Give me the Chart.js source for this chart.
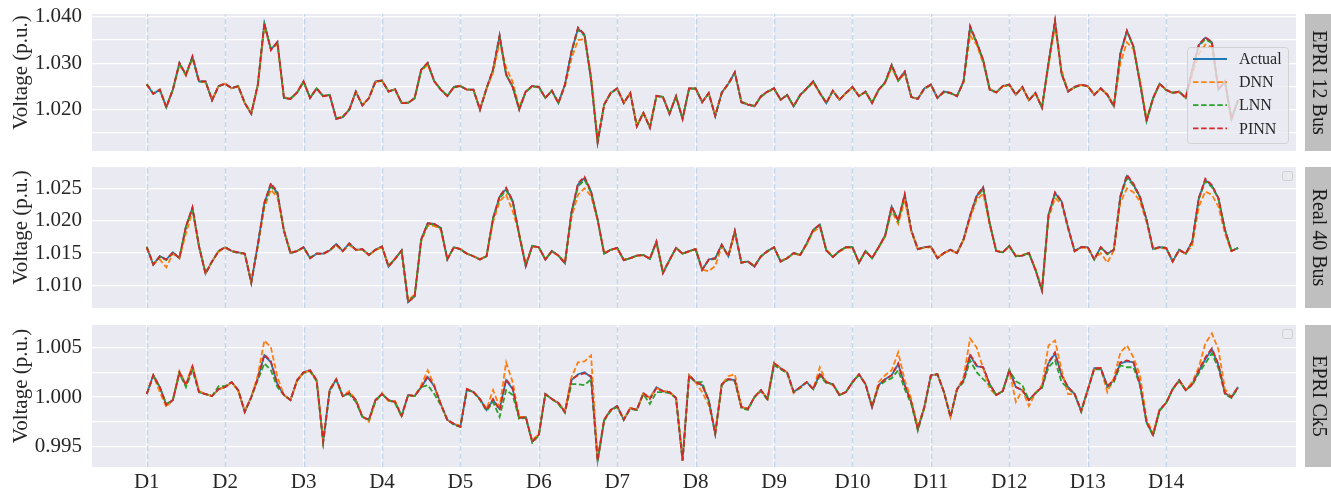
<!DOCTYPE html>
<html>
<head>
<meta charset="utf-8">
<title>Voltage prediction comparison</title>
<script src="https://cdn.jsdelivr.net/npm/chart.js@4.4.1/dist/chart.umd.min.js"></script>
<style>
html,body{margin:0;padding:0;background:#ffffff;}
#wrap{position:relative;width:1331px;height:493px;overflow:hidden;background:#fff;}
#wrap canvas{position:absolute;left:0;display:block;}
</style>
</head>
<body>
<div id="wrap">
<canvas id="c1" width="1331" height="160" style="top:0px;width:1331px;height:160px"></canvas>
<canvas id="c2" width="1331" height="160" style="top:160px;width:1331px;height:160px"></canvas>
<canvas id="c3" width="1331" height="173" style="top:320px;width:1331px;height:173px"></canvas>
</div>
<script>
// ---------------- categories / tick labels ----------------
const dayLabels = ['D1','D2','D3','D4','D5','D6','D7','D8','D9','D10','D11','D12','D13','D14'];
const dayTickHours = [0,24,48,72,96,120,144,168,192,216,240,264,288,312];
const sampleStepHours = 2;
const seriesNames = ['Actual','DNN','LNN','PINN'];
const panelTitles = ['EPRI 12 Bus','Real 40 Bus','EPRI Ck5'];

const epri12YGrid = [1.015,1.020,1.025,1.030,1.035,1.040];
const epri12YLabels = [1.020,1.030,1.040];
const real40YGrid = [1.010,1.015,1.020,1.025];
const real40YLabels = [1.010,1.015,1.020,1.025];
const ck5YGrid = [0.995,0.9975,1.000,1.0025,1.005];
const ck5YLabels = [0.995,1.000,1.005];

// ---------------- EPRI 12 Bus (2-hourly samples) ----------------
const epri12Actual = [
1.0254,1.0234,1.0243,1.0205,1.0243,1.0300,1.0275,1.0314,1.0261,1.0261,1.0220,1.0251,
1.0256,1.0246,1.0251,1.0214,1.0191,1.0254,1.0386,1.0330,1.0345,1.0225,1.0223,1.0237,
1.0261,1.0225,1.0246,1.0229,1.0232,1.0180,1.0184,1.0200,1.0239,1.0209,1.0225,1.0261,
1.0263,1.0239,1.0244,1.0214,1.0214,1.0225,1.0286,1.0300,1.0261,1.0243,1.0229,1.0249,
1.0251,1.0243,1.0243,1.0200,1.0246,1.0286,1.0359,1.0275,1.0249,1.0200,1.0239,1.0251,
1.0249,1.0225,1.0241,1.0214,1.0254,1.0325,1.0375,1.0361,1.0264,1.0130,1.0211,1.0236,
1.0246,1.0214,1.0236,1.0164,1.0193,1.0161,1.0230,1.0227,1.0191,1.0229,1.0180,1.0246,
1.0246,1.0216,1.0236,1.0186,1.0237,1.0256,1.0280,1.0216,1.0211,1.0207,1.0229,1.0239,
1.0246,1.0221,1.0232,1.0207,1.0232,1.0246,1.0261,1.0236,1.0214,1.0241,1.0221,1.0236,
1.0249,1.0229,1.0239,1.0214,1.0243,1.0259,1.0296,1.0263,1.0282,1.0227,1.0223,1.0246,
1.0254,1.0225,1.0239,1.0236,1.0229,1.0261,1.0378,1.0345,1.0307,1.0243,1.0237,1.0251,
1.0254,1.0232,1.0249,1.0220,1.0236,1.0204,1.0300,1.0390,1.0277,1.0239,1.0249,1.0254,
1.0251,1.0232,1.0246,1.0232,1.0207,1.0321,1.0370,1.0336,1.0257,1.0175,1.0225,1.0256,
1.0243,1.0236,1.0239,1.0225,1.0286,1.0339,1.0355,1.0345,1.0243,1.0261,1.0179,1.0221];
const epri12DNN = [
1.0254,1.0234,1.0243,1.0207,1.0243,1.0297,1.0273,1.0310,1.0261,1.0259,1.0222,1.0251,
1.0256,1.0246,1.0250,1.0215,1.0193,1.0252,1.0378,1.0332,1.0340,1.0227,1.0223,1.0237,
1.0260,1.0226,1.0245,1.0229,1.0232,1.0182,1.0185,1.0200,1.0238,1.0210,1.0225,1.0259,
1.0262,1.0240,1.0243,1.0215,1.0215,1.0225,1.0283,1.0297,1.0262,1.0243,1.0230,1.0248,
1.0251,1.0243,1.0242,1.0202,1.0245,1.0280,1.0345,1.0290,1.0260,1.0205,1.0239,1.0250,
1.0249,1.0226,1.0240,1.0215,1.0250,1.0310,1.0350,1.0352,1.0275,1.0135,1.0210,1.0236,
1.0245,1.0215,1.0236,1.0166,1.0193,1.0163,1.0229,1.0226,1.0193,1.0228,1.0182,1.0245,
1.0246,1.0217,1.0235,1.0188,1.0236,1.0255,1.0277,1.0217,1.0212,1.0208,1.0228,1.0238,
1.0245,1.0222,1.0231,1.0208,1.0231,1.0245,1.0258,1.0236,1.0215,1.0240,1.0222,1.0235,
1.0248,1.0230,1.0238,1.0215,1.0242,1.0257,1.0290,1.0262,1.0278,1.0228,1.0224,1.0245,
1.0253,1.0226,1.0238,1.0236,1.0230,1.0258,1.0360,1.0340,1.0300,1.0245,1.0237,1.0250,
1.0253,1.0233,1.0248,1.0221,1.0235,1.0206,1.0295,1.0380,1.0285,1.0240,1.0248,1.0253,
1.0250,1.0233,1.0245,1.0233,1.0209,1.0300,1.0345,1.0330,1.0265,1.0180,1.0224,1.0255,
1.0243,1.0236,1.0238,1.0226,1.0275,1.0320,1.0340,1.0335,1.0245,1.0259,1.0182,1.0220];
const epri12LNN = [
1.0255,1.0235,1.0242,1.0206,1.0244,1.0299,1.0276,1.0312,1.0260,1.0261,1.0221,1.0250,
1.0255,1.0247,1.0250,1.0215,1.0192,1.0253,1.0383,1.0331,1.0343,1.0226,1.0224,1.0236,
1.0260,1.0226,1.0245,1.0230,1.0231,1.0181,1.0185,1.0201,1.0238,1.0210,1.0224,1.0260,
1.0262,1.0240,1.0243,1.0215,1.0215,1.0224,1.0285,1.0299,1.0261,1.0244,1.0230,1.0248,
1.0250,1.0244,1.0242,1.0201,1.0245,1.0285,1.0356,1.0276,1.0250,1.0202,1.0238,1.0250,
1.0248,1.0226,1.0240,1.0215,1.0253,1.0323,1.0372,1.0359,1.0265,1.0132,1.0211,1.0235,
1.0245,1.0215,1.0235,1.0165,1.0194,1.0162,1.0229,1.0228,1.0192,1.0228,1.0181,1.0245,
1.0245,1.0217,1.0235,1.0187,1.0236,1.0255,1.0279,1.0217,1.0212,1.0208,1.0228,1.0238,
1.0245,1.0222,1.0231,1.0208,1.0231,1.0245,1.0260,1.0237,1.0215,1.0240,1.0222,1.0235,
1.0248,1.0230,1.0238,1.0215,1.0242,1.0258,1.0294,1.0262,1.0280,1.0228,1.0224,1.0245,
1.0253,1.0226,1.0238,1.0235,1.0230,1.0260,1.0376,1.0344,1.0306,1.0244,1.0238,1.0250,
1.0253,1.0233,1.0248,1.0221,1.0235,1.0205,1.0299,1.0388,1.0278,1.0240,1.0248,1.0253,
1.0250,1.0233,1.0245,1.0233,1.0208,1.0319,1.0368,1.0335,1.0258,1.0177,1.0224,1.0255,
1.0242,1.0237,1.0238,1.0226,1.0285,1.0337,1.0352,1.0343,1.0244,1.0260,1.0180,1.0220];
const epri12PINN = [
1.0254,1.0234,1.0243,1.0205,1.0243,1.0301,1.0275,1.0315,1.0261,1.0261,1.0220,1.0251,
1.0256,1.0246,1.0251,1.0214,1.0191,1.0254,1.0387,1.0328,1.0346,1.0225,1.0223,1.0237,
1.0261,1.0225,1.0246,1.0229,1.0232,1.0180,1.0184,1.0200,1.0239,1.0209,1.0225,1.0261,
1.0263,1.0239,1.0244,1.0214,1.0214,1.0225,1.0286,1.0301,1.0261,1.0243,1.0229,1.0249,
1.0251,1.0243,1.0243,1.0200,1.0246,1.0287,1.0360,1.0276,1.0249,1.0200,1.0239,1.0251,
1.0249,1.0225,1.0241,1.0214,1.0254,1.0326,1.0377,1.0362,1.0264,1.0129,1.0211,1.0236,
1.0246,1.0214,1.0236,1.0164,1.0193,1.0161,1.0230,1.0227,1.0191,1.0229,1.0180,1.0246,
1.0246,1.0216,1.0236,1.0186,1.0237,1.0256,1.0281,1.0216,1.0211,1.0207,1.0229,1.0239,
1.0246,1.0221,1.0232,1.0207,1.0232,1.0246,1.0261,1.0236,1.0214,1.0241,1.0221,1.0236,
1.0249,1.0229,1.0239,1.0214,1.0243,1.0259,1.0297,1.0263,1.0282,1.0227,1.0223,1.0246,
1.0254,1.0225,1.0239,1.0236,1.0229,1.0261,1.0380,1.0346,1.0307,1.0243,1.0237,1.0251,
1.0254,1.0232,1.0249,1.0220,1.0236,1.0204,1.0301,1.0392,1.0277,1.0239,1.0249,1.0254,
1.0251,1.0232,1.0246,1.0232,1.0207,1.0322,1.0370,1.0336,1.0257,1.0175,1.0225,1.0256,
1.0243,1.0236,1.0239,1.0225,1.0286,1.0340,1.0356,1.0346,1.0243,1.0261,1.0179,1.0221];

// ---------------- Real 40 Bus ----------------
const real40Actual = [
1.0159,1.0132,1.0145,1.0140,1.0151,1.0142,1.0191,1.0220,1.0160,1.0118,1.0137,1.0153,
1.0159,1.0153,1.0151,1.0149,1.0104,1.0163,1.0227,1.0256,1.0243,1.0184,1.0150,1.0153,
1.0159,1.0142,1.0149,1.0149,1.0154,1.0164,1.0153,1.0165,1.0155,1.0156,1.0147,1.0155,
1.0160,1.0129,1.0141,1.0154,1.0074,1.0083,1.0171,1.0196,1.0195,1.0189,1.0140,1.0159,
1.0156,1.0149,1.0145,1.0140,1.0145,1.0204,1.0237,1.0249,1.0231,1.0178,1.0130,1.0161,
1.0159,1.0140,1.0153,1.0146,1.0134,1.0213,1.0256,1.0266,1.0245,1.0202,1.0149,1.0155,
1.0158,1.0139,1.0142,1.0146,1.0147,1.0141,1.0168,1.0119,1.0139,1.0158,1.0149,1.0153,
1.0156,1.0124,1.0140,1.0142,1.0163,1.0145,1.0184,1.0135,1.0137,1.0129,1.0145,1.0153,
1.0159,1.0137,1.0142,1.0150,1.0147,1.0165,1.0186,1.0194,1.0154,1.0144,1.0153,1.0159,
1.0159,1.0135,1.0153,1.0142,1.0159,1.0177,1.0222,1.0200,1.0240,1.0185,1.0156,1.0159,
1.0160,1.0142,1.0150,1.0155,1.0150,1.0171,1.0208,1.0238,1.0251,1.0196,1.0153,1.0151,
1.0161,1.0145,1.0146,1.0150,1.0124,1.0092,1.0209,1.0243,1.0230,1.0189,1.0153,1.0159,
1.0159,1.0140,1.0159,1.0149,1.0155,1.0238,1.0269,1.0256,1.0237,1.0202,1.0156,1.0159,
1.0158,1.0137,1.0155,1.0149,1.0168,1.0235,1.0263,1.0254,1.0235,1.0186,1.0153,1.0158];
const real40DNN = [
1.0158,1.0133,1.0140,1.0128,1.0149,1.0142,1.0180,1.0215,1.0161,1.0119,1.0137,1.0152,
1.0158,1.0153,1.0150,1.0149,1.0106,1.0160,1.0220,1.0248,1.0236,1.0186,1.0151,1.0153,
1.0158,1.0143,1.0149,1.0148,1.0154,1.0162,1.0153,1.0162,1.0155,1.0155,1.0147,1.0154,
1.0159,1.0131,1.0141,1.0153,1.0077,1.0086,1.0168,1.0192,1.0192,1.0186,1.0141,1.0158,
1.0156,1.0149,1.0145,1.0141,1.0145,1.0198,1.0230,1.0240,1.0215,1.0180,1.0133,1.0160,
1.0158,1.0141,1.0152,1.0146,1.0136,1.0205,1.0240,1.0250,1.0238,1.0200,1.0150,1.0155,
1.0157,1.0140,1.0142,1.0146,1.0146,1.0142,1.0165,1.0121,1.0139,1.0157,1.0149,1.0152,
1.0156,1.0124,1.0122,1.0130,1.0160,1.0146,1.0180,1.0136,1.0137,1.0130,1.0145,1.0152,
1.0158,1.0138,1.0142,1.0149,1.0147,1.0163,1.0183,1.0190,1.0155,1.0145,1.0152,1.0158,
1.0158,1.0136,1.0152,1.0143,1.0158,1.0175,1.0215,1.0195,1.0232,1.0183,1.0156,1.0158,
1.0159,1.0143,1.0150,1.0154,1.0150,1.0170,1.0203,1.0232,1.0242,1.0194,1.0154,1.0151,
1.0160,1.0146,1.0147,1.0150,1.0126,1.0095,1.0203,1.0235,1.0226,1.0187,1.0153,1.0158,
1.0158,1.0141,1.0150,1.0135,1.0154,1.0228,1.0250,1.0244,1.0230,1.0198,1.0156,1.0158,
1.0157,1.0138,1.0154,1.0149,1.0162,1.0222,1.0245,1.0240,1.0222,1.0180,1.0153,1.0157];
const real40LNN = [
1.0160,1.0133,1.0144,1.0139,1.0150,1.0143,1.0190,1.0218,1.0161,1.0119,1.0137,1.0153,
1.0159,1.0153,1.0150,1.0149,1.0105,1.0162,1.0225,1.0253,1.0241,1.0185,1.0150,1.0153,
1.0159,1.0143,1.0149,1.0149,1.0154,1.0163,1.0153,1.0164,1.0155,1.0156,1.0147,1.0155,
1.0160,1.0130,1.0141,1.0154,1.0075,1.0084,1.0170,1.0195,1.0194,1.0188,1.0141,1.0159,
1.0156,1.0149,1.0145,1.0140,1.0145,1.0203,1.0235,1.0247,1.0229,1.0178,1.0131,1.0161,
1.0159,1.0140,1.0153,1.0146,1.0135,1.0211,1.0253,1.0263,1.0243,1.0201,1.0149,1.0155,
1.0158,1.0139,1.0142,1.0146,1.0147,1.0141,1.0167,1.0120,1.0139,1.0158,1.0149,1.0153,
1.0156,1.0125,1.0139,1.0141,1.0162,1.0145,1.0183,1.0135,1.0137,1.0130,1.0145,1.0153,
1.0159,1.0137,1.0142,1.0150,1.0147,1.0165,1.0185,1.0193,1.0154,1.0144,1.0153,1.0159,
1.0159,1.0135,1.0153,1.0142,1.0159,1.0177,1.0220,1.0199,1.0238,1.0185,1.0156,1.0159,
1.0160,1.0142,1.0150,1.0155,1.0150,1.0171,1.0207,1.0236,1.0249,1.0196,1.0153,1.0151,
1.0161,1.0145,1.0146,1.0150,1.0124,1.0093,1.0208,1.0241,1.0229,1.0189,1.0153,1.0159,
1.0159,1.0140,1.0158,1.0148,1.0155,1.0236,1.0266,1.0254,1.0236,1.0201,1.0156,1.0159,
1.0158,1.0137,1.0155,1.0149,1.0167,1.0233,1.0261,1.0252,1.0234,1.0186,1.0153,1.0158];
const real40PINN = [
1.0159,1.0132,1.0145,1.0140,1.0151,1.0142,1.0191,1.0221,1.0160,1.0118,1.0137,1.0153,
1.0159,1.0153,1.0151,1.0149,1.0104,1.0163,1.0228,1.0258,1.0244,1.0184,1.0150,1.0153,
1.0159,1.0142,1.0149,1.0149,1.0154,1.0164,1.0153,1.0165,1.0155,1.0156,1.0147,1.0155,
1.0160,1.0129,1.0141,1.0154,1.0074,1.0083,1.0171,1.0196,1.0195,1.0189,1.0140,1.0159,
1.0156,1.0149,1.0145,1.0140,1.0145,1.0204,1.0238,1.0251,1.0231,1.0178,1.0130,1.0161,
1.0159,1.0140,1.0153,1.0146,1.0134,1.0213,1.0258,1.0268,1.0245,1.0202,1.0149,1.0155,
1.0158,1.0139,1.0142,1.0146,1.0147,1.0141,1.0168,1.0119,1.0139,1.0158,1.0149,1.0153,
1.0156,1.0124,1.0140,1.0142,1.0163,1.0145,1.0184,1.0135,1.0137,1.0129,1.0145,1.0153,
1.0159,1.0137,1.0142,1.0150,1.0147,1.0165,1.0186,1.0194,1.0154,1.0144,1.0153,1.0159,
1.0159,1.0135,1.0153,1.0142,1.0159,1.0177,1.0222,1.0200,1.0241,1.0185,1.0156,1.0159,
1.0160,1.0142,1.0150,1.0155,1.0150,1.0171,1.0208,1.0239,1.0252,1.0196,1.0153,1.0151,
1.0161,1.0145,1.0146,1.0150,1.0124,1.0092,1.0209,1.0244,1.0230,1.0189,1.0153,1.0159,
1.0159,1.0140,1.0159,1.0149,1.0155,1.0238,1.0271,1.0257,1.0237,1.0202,1.0156,1.0159,
1.0158,1.0137,1.0155,1.0149,1.0168,1.0235,1.0265,1.0255,1.0235,1.0186,1.0153,1.0158];

// ---------------- EPRI Ck5 ----------------
const ck5Actual = [
1.0003,1.0022,1.0010,0.9992,0.9997,1.0025,1.0012,1.0030,1.0005,1.0003,1.0001,1.0008,
1.0010,1.0015,1.0007,0.9985,1.0000,1.0019,1.0042,1.0035,1.0013,1.0002,0.9997,1.0017,
1.0025,1.0027,1.0017,0.9955,1.0007,1.0018,1.0001,1.0004,0.9997,0.9980,0.9977,0.9997,
1.0003,0.9997,0.9995,0.9981,1.0002,1.0001,1.0010,1.0020,1.0011,0.9993,0.9977,0.9973,
0.9970,1.0008,1.0005,0.9998,0.9987,0.9997,0.9988,1.0017,1.0008,0.9979,0.9980,0.9955,
0.9962,1.0003,0.9998,0.9994,0.9985,1.0017,1.0023,1.0025,1.0020,0.9936,0.9977,0.9987,
0.9991,0.9977,0.9989,0.9987,1.0004,0.9999,1.0010,1.0006,1.0005,0.9999,0.9936,1.0022,
1.0015,1.0012,0.9997,0.9963,1.0013,1.0018,1.0017,0.9990,0.9988,1.0000,1.0007,0.9998,
1.0034,1.0029,1.0025,1.0005,1.0010,1.0015,1.0008,1.0023,1.0015,1.0013,1.0002,1.0005,
1.0015,1.0023,1.0013,0.9990,1.0012,1.0018,1.0022,1.0033,1.0012,0.9995,0.9968,0.9990,
1.0022,1.0023,1.0005,0.9980,1.0008,1.0017,1.0042,1.0031,1.0030,1.0013,1.0002,1.0006,
1.0027,1.0010,1.0007,0.9997,1.0004,1.0010,1.0034,1.0044,1.0022,1.0010,1.0003,0.9986,
1.0007,1.0029,1.0029,1.0011,1.0017,1.0034,1.0036,1.0035,1.0013,0.9975,0.9962,0.9987,
0.9994,1.0008,1.0017,1.0007,1.0013,1.0026,1.0038,1.0048,1.0032,1.0004,1.0000,1.0010];
const ck5DNN = [
1.0003,1.0022,1.0005,0.9990,0.9997,1.0026,1.0013,1.0032,1.0006,1.0003,1.0001,1.0008,
1.0010,1.0015,1.0006,0.9986,1.0000,1.0022,1.0057,1.0050,1.0020,1.0002,0.9997,1.0016,
1.0025,1.0026,1.0017,0.9957,1.0008,1.0018,1.0001,1.0006,0.9997,0.9981,0.9975,0.9995,
1.0004,0.9996,0.9996,0.9981,1.0002,1.0001,1.0012,1.0027,1.0012,0.9993,0.9977,0.9973,
0.9971,1.0008,1.0005,0.9998,0.9988,1.0007,0.9990,1.0035,1.0015,0.9980,0.9980,0.9956,
0.9963,1.0003,0.9998,0.9994,0.9986,1.0020,1.0035,1.0036,1.0042,0.9938,0.9977,0.9987,
0.9990,0.9978,0.9989,0.9987,1.0004,0.9999,1.0009,1.0006,1.0005,0.9999,0.9937,1.0022,
1.0015,1.0005,0.9992,0.9965,1.0013,1.0021,1.0023,0.9990,0.9988,1.0000,1.0007,0.9998,
1.0035,1.0029,1.0025,1.0004,1.0010,1.0015,1.0008,1.0030,1.0015,1.0012,1.0002,1.0005,
1.0015,1.0023,1.0013,0.9990,1.0015,1.0022,1.0027,1.0045,1.0017,0.9998,0.9970,0.9990,
1.0022,1.0023,1.0005,0.9980,1.0007,1.0020,1.0059,1.0050,1.0029,1.0008,1.0002,1.0006,
1.0027,0.9995,1.0007,0.9991,1.0004,1.0012,1.0052,1.0057,1.0027,1.0003,1.0003,0.9986,
1.0007,1.0029,1.0029,1.0005,1.0019,1.0045,1.0052,1.0040,1.0022,0.9978,0.9963,0.9987,
0.9994,1.0008,1.0017,1.0007,1.0015,1.0030,1.0054,1.0064,1.0048,1.0008,1.0000,1.0010];
const ck5LNN = [
1.0003,1.0021,1.0010,0.9993,0.9997,1.0024,1.0010,1.0027,1.0005,1.0003,1.0001,1.0011,
1.0011,1.0015,1.0007,0.9985,1.0000,1.0017,1.0034,1.0027,1.0010,1.0002,0.9997,1.0016,
1.0024,1.0026,1.0016,0.9954,1.0006,1.0017,1.0001,1.0003,0.9995,0.9980,0.9977,0.9996,
1.0003,0.9997,0.9994,0.9980,1.0002,1.0001,1.0010,1.0012,1.0003,0.9992,0.9977,0.9972,
0.9970,1.0007,1.0005,0.9997,0.9986,0.9995,0.9980,1.0007,1.0002,0.9978,0.9979,0.9954,
0.9961,1.0003,0.9998,0.9993,0.9984,1.0013,1.0013,1.0012,1.0018,0.9935,0.9976,0.9986,
0.9990,0.9977,0.9988,0.9987,1.0003,0.9993,1.0005,1.0005,1.0004,0.9999,0.9936,1.0021,
1.0015,1.0015,0.9996,0.9963,1.0012,1.0018,1.0016,0.9989,0.9987,1.0000,1.0006,0.9997,
1.0032,1.0028,1.0024,1.0005,1.0009,1.0015,1.0008,1.0021,1.0014,1.0013,1.0002,1.0005,
1.0015,1.0022,1.0013,0.9990,1.0011,1.0016,1.0019,1.0027,1.0008,0.9993,0.9966,0.9989,
1.0021,1.0023,1.0005,0.9980,1.0008,1.0015,1.0037,1.0025,1.0018,1.0012,1.0002,1.0006,
1.0027,1.0016,1.0012,0.9997,1.0004,1.0009,1.0030,1.0037,1.0015,1.0009,1.0003,0.9985,
1.0007,1.0028,1.0028,1.0010,1.0015,1.0032,1.0030,1.0030,1.0012,0.9974,0.9961,0.9986,
0.9994,1.0008,1.0016,1.0007,1.0012,1.0024,1.0034,1.0044,1.0029,1.0003,0.9999,1.0009];
const ck5PINN = [
1.0003,1.0022,1.0010,0.9992,0.9997,1.0025,1.0012,1.0031,1.0005,1.0003,1.0001,1.0008,
1.0010,1.0015,1.0007,0.9985,1.0000,1.0019,1.0043,1.0036,1.0013,1.0002,0.9997,1.0017,
1.0025,1.0027,1.0017,0.9955,1.0007,1.0018,1.0001,1.0004,0.9997,0.9980,0.9977,0.9997,
1.0003,0.9997,0.9995,0.9981,1.0002,1.0001,1.0010,1.0021,1.0011,0.9993,0.9977,0.9973,
0.9970,1.0008,1.0005,0.9998,0.9987,0.9998,0.9987,1.0018,1.0009,0.9979,0.9980,0.9955,
0.9962,1.0003,0.9998,0.9994,0.9985,1.0018,1.0022,1.0024,1.0021,0.9936,0.9977,0.9987,
0.9991,0.9977,0.9989,0.9987,1.0004,0.9998,1.0009,1.0006,1.0005,0.9999,0.9936,1.0022,
1.0015,1.0012,0.9997,0.9963,1.0013,1.0018,1.0017,0.9990,0.9988,1.0000,1.0007,0.9998,
1.0034,1.0029,1.0025,1.0005,1.0010,1.0015,1.0008,1.0024,1.0015,1.0013,1.0002,1.0005,
1.0015,1.0023,1.0013,0.9990,1.0012,1.0018,1.0022,1.0034,1.0012,0.9995,0.9968,0.9990,
1.0022,1.0023,1.0005,0.9980,1.0008,1.0017,1.0043,1.0032,1.0030,1.0013,1.0002,1.0006,
1.0027,1.0010,1.0007,0.9997,1.0004,1.0010,1.0035,1.0045,1.0022,1.0010,1.0003,0.9986,
1.0007,1.0029,1.0029,1.0011,1.0017,1.0035,1.0037,1.0035,1.0013,0.9975,0.9962,0.9987,
0.9994,1.0008,1.0017,1.0007,1.0013,1.0027,1.0040,1.0049,1.0033,1.0004,1.0000,1.0010];

// ---------------- styling ----------------
const FONT = "'Liberation Serif','Times New Roman',serif";
const TEXT = '#262626';
const seriesColors = ['#1f77b4','#ff7f0e','#2ca02c','#d62728'];
const seriesDashes = [[],[5.5,2.6],[5.5,2.6],[5.5,2.6]];

function roundedRect(ctx,x,y,w,h,r){
  ctx.beginPath();
  ctx.moveTo(x+r,y); ctx.lineTo(x+w-r,y); ctx.quadraticCurveTo(x+w,y,x+w,y+r);
  ctx.lineTo(x+w,y+h-r); ctx.quadraticCurveTo(x+w,y+h,x+w-r,y+h);
  ctx.lineTo(x+r,y+h); ctx.quadraticCurveTo(x,y+h,x,y+h-r);
  ctx.lineTo(x,y+r); ctx.quadraticCurveTo(x,y,x+r,y); ctx.closePath();
}

const panelDeco = {
  id: 'panelDeco',
  beforeDraw(chart){
    const a = chart.chartArea, c = chart.ctx;
    c.save(); c.fillStyle = '#EAEAF2';
    c.fillRect(a.left, a.top, a.right - a.left, a.bottom - a.top);
    c.restore();
  },
  beforeDatasetsDraw(chart){
    const a = chart.chartArea, c = chart.ctx, xs = chart.scales.x;
    c.save();
    c.strokeStyle = 'rgba(176,206,228,0.75)'; c.lineWidth = 1.5; c.setLineDash([5.5,2.4]);
    dayTickHours.forEach(h => {
      const px = Math.round(xs.getPixelForValue(h)) + 0.5;
      c.beginPath(); c.moveTo(px, a.bottom); c.lineTo(px, a.top); c.stroke();
    });
    c.restore();
  },
  afterDraw(chart, args, o){
    const a = chart.chartArea, c = chart.ctx, W = chart.width;
    c.save();
    // facet strip
    const sx = a.right + 9;
    c.fillStyle = '#bfbfbf';
    c.fillRect(sx, a.top, W - sx, a.bottom - a.top);
    c.save();
    c.translate((sx + W) / 2, (a.top + a.bottom) / 2);
    c.rotate(Math.PI / 2);
    c.fillStyle = '#1a1a1a'; c.font = '20px ' + FONT;
    c.textAlign = 'center'; c.textBaseline = 'middle';
    c.fillText(o.strip, 0, 0);
    c.restore();
    // y-axis title
    c.save();
    c.translate(21, (a.top + a.bottom) / 2 - 10);
    c.rotate(-Math.PI / 2);
    c.fillStyle = TEXT; c.font = '21px ' + FONT;
    c.textAlign = 'center'; c.textBaseline = 'middle';
    c.fillText('Voltage (p.u.)', 0, 0);
    c.restore();
    // legend
    if (o.legend === 'full') {
      const w = 101, h = 96, left = a.right - 109, top = a.top + 33;
      roundedRect(c, left + 0.5, top + 0.5, w, h, 3);
      c.fillStyle = 'rgba(234,234,242,0.8)'; c.fill();
      c.strokeStyle = 'rgba(204,204,204,0.8)'; c.lineWidth = 1; c.stroke();
      chart.data.datasets.forEach((d, k) => {
        const y = top + 12 + k * 23.1;
        c.strokeStyle = d.borderColor; c.lineWidth = d.borderWidth;
        c.setLineDash(d.borderDash || []);
        c.beginPath(); c.moveTo(left + 6, y); c.lineTo(left + 40, y); c.stroke();
        c.setLineDash([]);
        c.fillStyle = TEXT; c.font = '16px ' + FONT;
        c.textAlign = 'left'; c.textBaseline = 'middle';
        c.fillText(d.label, left + 52, y + 1);
      });
    } else if (o.legend === 'empty') {
      roundedRect(c, a.right - 13.5, a.top + 4.5, 10, 9, 2);
      c.fillStyle = 'rgba(234,234,242,0.8)'; c.fill();
      c.strokeStyle = 'rgba(204,204,204,0.9)'; c.lineWidth = 1; c.stroke();
    }
    c.restore();
  }
};

const panels = [
  {canvas:'c1', strip:panelTitles[0], series:[epri12Actual,epri12DNN,epri12LNN,epri12PINN],
   yMin:1.0111, yMax:1.0406, yGrid:epri12YGrid, yLabels:epri12YLabels,
   showX:false, xHeight:0, padTop:14, padBottom:9, legend:'full'},
  {canvas:'c2', strip:panelTitles[1], series:[real40Actual,real40DNN,real40LNN,real40PINN],
   yMin:1.0065, yMax:1.0283, yGrid:real40YGrid, yLabels:real40YLabels,
   showX:false, xHeight:0, padTop:7, padBottom:12, legend:'empty'},
  {canvas:'c3', strip:panelTitles[2], series:[ck5Actual,ck5DNN,ck5LNN,ck5PINN],
   yMin:0.99295, yMax:1.00726, yGrid:ck5YGrid, yLabels:ck5YLabels,
   showX:true, xHeight:26, padTop:5, padBottom:0, legend:'empty'}
];

function buildPanel(p){
  const datasets = seriesNames.map((name, k) => ({
    label: name,
    data: p.series[k].map((v, i) => ({x: i * sampleStepHours, y: v})),
    borderColor: seriesColors[k],
    borderDash: seriesDashes[k],
    borderWidth: 1.8,
    pointRadius: 0, pointHoverRadius: 0,
    fill: false, tension: 0,
    order: 3 - k
  }));
  return new Chart(document.getElementById(p.canvas), {
    type: 'line',
    data: {datasets},
    options: {
      responsive: false, animation: false, devicePixelRatio: 1, events: [],
      layout: {padding: {left: 0, right: 35, top: p.padTop, bottom: p.padBottom}},
      plugins: {
        legend: {display: false}, tooltip: {enabled: false},
        panelDeco: {strip: p.strip, legend: p.legend}
      },
      scales: {
        x: {
          type: 'linear', min: -16.75, max: 351.75,
          afterBuildTicks: s => { s.ticks = dayTickHours.map(v => ({value: v})); },
          ticks: {
            display: p.showX, autoSkip: false, maxRotation: 0, padding: 3,
            font: {family: FONT, size: 21}, color: TEXT,
            callback: (v, i) => dayLabels[i]
          },
          grid: {color: '#ffffff', lineWidth: 1.2, drawTicks: false},
          border: {display: false},
          afterFit: s => { s.height = p.xHeight; s.paddingLeft = 0; s.paddingRight = 0; }
        },
        y: {
          min: p.yMin, max: p.yMax,
          afterBuildTicks: s => { s.ticks = p.yGrid.map(v => ({value: v})); },
          ticks: {
            autoSkip: false, padding: 10,
            font: {family: FONT, size: 21}, color: TEXT,
            callback: v => p.yLabels.some(t => Math.abs(t - v) < 1e-7) ? v.toFixed(3) : ''
          },
          grid: {color: '#ffffff', lineWidth: 1.2, drawTicks: false},
          border: {display: false},
          afterFit: s => { s.width = 92; s.paddingTop = 0; s.paddingBottom = 0; }
        }
      }
    },
    plugins: [panelDeco]
  });
}

panels.forEach(buildPanel);
</script>
</body>
</html>
